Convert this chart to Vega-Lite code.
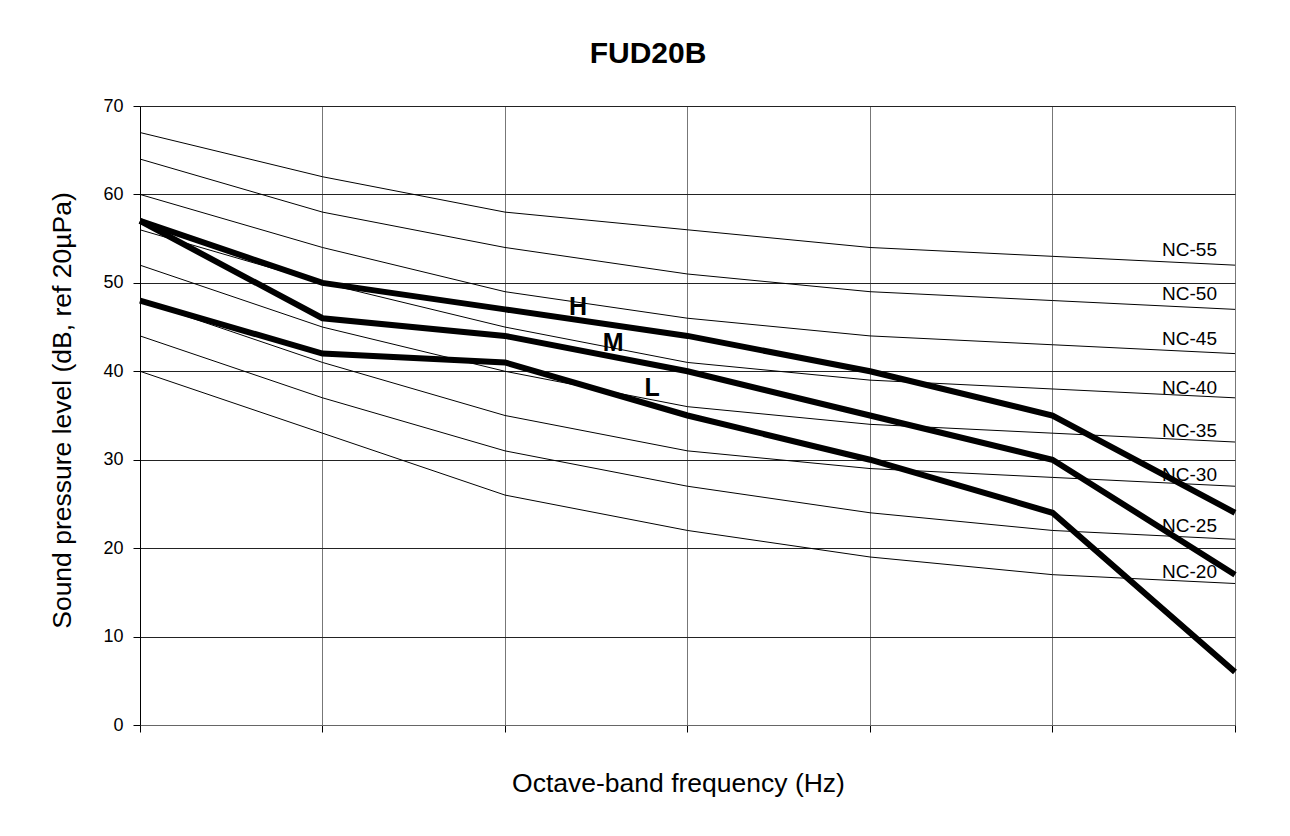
{
  "$schema": "https://vega.github.io/schema/vega-lite/v6.json",
  "width": 1095,
  "height": 619,
  "autosize": {"type": "none"},
  "padding": {"left": 140, "top": 106, "right": 55, "bottom": 111},
  "background": "white",
  "config": {
    "font": "Liberation Sans",
    "view": {"stroke": null}
  },
  "title": {
    "text": "FUD20B",
    "font": "Liberation Sans",
    "fontSize": 30,
    "fontWeight": "bold",
    "color": "black",
    "anchor": "middle",
    "frame": "bounds",
    "baseline": "alphabetic",
    "offset": 4
  },
  "datasets": {
    "nc": [
      {"curve": "NC-20", "freq": 125, "level": 40}, {"curve": "NC-20", "freq": 250, "level": 33}, {"curve": "NC-20", "freq": 500, "level": 26}, {"curve": "NC-20", "freq": 1000, "level": 22}, {"curve": "NC-20", "freq": 2000, "level": 19}, {"curve": "NC-20", "freq": 4000, "level": 17}, {"curve": "NC-20", "freq": 8000, "level": 16},
      {"curve": "NC-25", "freq": 125, "level": 44}, {"curve": "NC-25", "freq": 250, "level": 37}, {"curve": "NC-25", "freq": 500, "level": 31}, {"curve": "NC-25", "freq": 1000, "level": 27}, {"curve": "NC-25", "freq": 2000, "level": 24}, {"curve": "NC-25", "freq": 4000, "level": 22}, {"curve": "NC-25", "freq": 8000, "level": 21},
      {"curve": "NC-30", "freq": 125, "level": 48}, {"curve": "NC-30", "freq": 250, "level": 41}, {"curve": "NC-30", "freq": 500, "level": 35}, {"curve": "NC-30", "freq": 1000, "level": 31}, {"curve": "NC-30", "freq": 2000, "level": 29}, {"curve": "NC-30", "freq": 4000, "level": 28}, {"curve": "NC-30", "freq": 8000, "level": 27},
      {"curve": "NC-35", "freq": 125, "level": 52}, {"curve": "NC-35", "freq": 250, "level": 45}, {"curve": "NC-35", "freq": 500, "level": 40}, {"curve": "NC-35", "freq": 1000, "level": 36}, {"curve": "NC-35", "freq": 2000, "level": 34}, {"curve": "NC-35", "freq": 4000, "level": 33}, {"curve": "NC-35", "freq": 8000, "level": 32},
      {"curve": "NC-40", "freq": 125, "level": 56}, {"curve": "NC-40", "freq": 250, "level": 50}, {"curve": "NC-40", "freq": 500, "level": 45}, {"curve": "NC-40", "freq": 1000, "level": 41}, {"curve": "NC-40", "freq": 2000, "level": 39}, {"curve": "NC-40", "freq": 4000, "level": 38}, {"curve": "NC-40", "freq": 8000, "level": 37},
      {"curve": "NC-45", "freq": 125, "level": 60}, {"curve": "NC-45", "freq": 250, "level": 54}, {"curve": "NC-45", "freq": 500, "level": 49}, {"curve": "NC-45", "freq": 1000, "level": 46}, {"curve": "NC-45", "freq": 2000, "level": 44}, {"curve": "NC-45", "freq": 4000, "level": 43}, {"curve": "NC-45", "freq": 8000, "level": 42},
      {"curve": "NC-50", "freq": 125, "level": 64}, {"curve": "NC-50", "freq": 250, "level": 58}, {"curve": "NC-50", "freq": 500, "level": 54}, {"curve": "NC-50", "freq": 1000, "level": 51}, {"curve": "NC-50", "freq": 2000, "level": 49}, {"curve": "NC-50", "freq": 4000, "level": 48}, {"curve": "NC-50", "freq": 8000, "level": 47},
      {"curve": "NC-55", "freq": 125, "level": 67}, {"curve": "NC-55", "freq": 250, "level": 62}, {"curve": "NC-55", "freq": 500, "level": 58}, {"curve": "NC-55", "freq": 1000, "level": 56}, {"curve": "NC-55", "freq": 2000, "level": 54}, {"curve": "NC-55", "freq": 4000, "level": 53}, {"curve": "NC-55", "freq": 8000, "level": 52}
    ],
    "units": [
      {"speed": "H", "freq": 125, "level": 57}, {"speed": "H", "freq": 250, "level": 50}, {"speed": "H", "freq": 500, "level": 47}, {"speed": "H", "freq": 1000, "level": 44}, {"speed": "H", "freq": 2000, "level": 40}, {"speed": "H", "freq": 4000, "level": 35}, {"speed": "H", "freq": 8000, "level": 24},
      {"speed": "M", "freq": 125, "level": 57}, {"speed": "M", "freq": 250, "level": 46}, {"speed": "M", "freq": 500, "level": 44}, {"speed": "M", "freq": 1000, "level": 40}, {"speed": "M", "freq": 2000, "level": 35}, {"speed": "M", "freq": 4000, "level": 30}, {"speed": "M", "freq": 8000, "level": 17},
      {"speed": "L", "freq": 125, "level": 48}, {"speed": "L", "freq": 250, "level": 42}, {"speed": "L", "freq": 500, "level": 41}, {"speed": "L", "freq": 1000, "level": 35}, {"speed": "L", "freq": 2000, "level": 30}, {"speed": "L", "freq": 4000, "level": 24}, {"speed": "L", "freq": 8000, "level": 6}
    ],
    "nclabels": [
      {"label": "NC-55", "freq": 7470, "level": 53.7},
      {"label": "NC-50", "freq": 7470, "level": 48.7},
      {"label": "NC-45", "freq": 7470, "level": 43.7},
      {"label": "NC-40", "freq": 7470, "level": 38.1},
      {"label": "NC-35", "freq": 7470, "level": 33.2},
      {"label": "NC-30", "freq": 7470, "level": 28.3},
      {"label": "NC-25", "freq": 7470, "level": 22.5},
      {"label": "NC-20", "freq": 7470, "level": 17.3}
    ],
    "unitlabels": [
      {"label": "H", "freq": 660, "level": 47.3},
      {"label": "M", "freq": 754, "level": 43.2},
      {"label": "L", "freq": 874, "level": 38.1}
    ]
  },
  "layer": [
    {
      "data": {"name": "nc"},
      "mark": {"type": "line", "color": "black", "strokeWidth": 1},
      "encoding": {
        "x": {
          "field": "freq",
          "type": "quantitative",
          "scale": {"type": "log", "base": 2, "domain": [125, 8000], "nice": false},
          "axis": {
            "title": "Octave-band frequency (Hz)",
            "values": [125, 250, 500, 1000, 2000, 4000, 8000],
            "labels": false,
            "ticks": true,
            "tickSize": 7,
            "tickColor": "black",
            "domainColor": "#666",
            "grid": true,
            "gridColor": "#777",
            "gridOpacity": 1,
            "gridWidth": 1,
            "titleFont": "Liberation Sans",
            "titleFontSize": 26.5,
            "titleFontWeight": "normal",
            "titleColor": "black",
            "titleX": 538,
            "titleY": 66,
            "titleAlign": "center",
            "titleBaseline": "alphabetic"
          }
        },
        "y": {
          "field": "level",
          "type": "quantitative",
          "scale": {"domain": [0, 70], "nice": false},
          "axis": {
            "title": "Sound pressure level (dB, ref 20µPa)",
            "values": [0, 10, 20, 30, 40, 50, 60, 70],
            "tickSize": 7,
            "tickColor": "black",
            "domainColor": "black",
            "labelFont": "Liberation Sans",
            "labelFontSize": 18,
            "labelColor": "black",
            "labelPadding": 10,
            "grid": true,
            "gridColor": "#222",
            "gridOpacity": 1,
            "gridWidth": 1,
            "titleFont": "Liberation Sans",
            "titleFontSize": 26.5,
            "titleFontWeight": "normal",
            "titleColor": "black",
            "titleX": -70,
            "titleY": 304,
            "titleAngle": -90,
            "titleAlign": "center",
            "titleBaseline": "alphabetic"
          }
        },
        "detail": {"field": "curve", "type": "nominal"}
      }
    },
    {
      "data": {"name": "units"},
      "mark": {"type": "line", "color": "black", "strokeWidth": 6, "strokeJoin": "miter", "strokeCap": "butt"},
      "encoding": {
        "x": {"field": "freq", "type": "quantitative"},
        "y": {"field": "level", "type": "quantitative"},
        "detail": {"field": "speed", "type": "nominal"}
      }
    },
    {
      "data": {"name": "nclabels"},
      "mark": {"type": "text", "align": "right", "baseline": "middle", "font": "Liberation Sans", "fontSize": 19, "color": "black"},
      "encoding": {
        "x": {"field": "freq", "type": "quantitative"},
        "y": {"field": "level", "type": "quantitative"},
        "text": {"field": "label", "type": "nominal"}
      }
    },
    {
      "data": {"name": "unitlabels"},
      "mark": {"type": "text", "align": "center", "baseline": "middle", "font": "Liberation Sans", "fontSize": 25, "fontWeight": "bold", "color": "black"},
      "encoding": {
        "x": {"field": "freq", "type": "quantitative"},
        "y": {"field": "level", "type": "quantitative"},
        "text": {"field": "label", "type": "nominal"}
      }
    }
  ]
}
